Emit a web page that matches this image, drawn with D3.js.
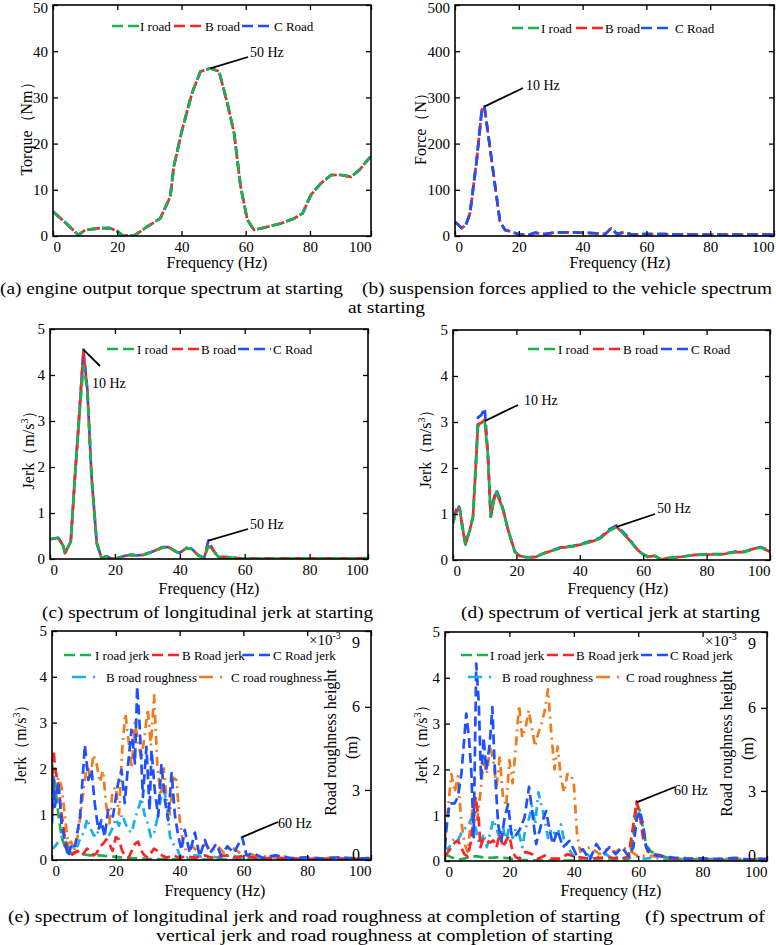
<!DOCTYPE html>
<html><head><meta charset="utf-8">
<script src="https://cdn.jsdelivr.net/npm/d3@7"></script>
<style>
body{margin:0;background:#fff;}
svg text{font-family:"Liberation Serif","Times New Roman",serif;fill:#000;}
</style></head><body>
<svg id="chart" width="776" height="945"></svg>
<script>
// ---------------- DATA ----------------
const xTicks = [0, 20, 40, 60, 80, 100];

// (a) engine output torque (Nm)
const freqA = [0, 4, 7.9, 10, 14.7, 17.8, 19.9, 21.5, 25.1, 29.3, 33.4, 36.5, 37.6, 40.2, 43.3, 45.9, 49, 51.7, 54.3, 56.4, 58.4, 60.5, 62.6, 66.8, 70.9, 75.1, 77.7, 80.3, 83.4, 86.6, 89.7, 92.8, 95.4, 98, 99];
const torqueI = [5.3, 2.8, 0.2, 1.3, 1.7, 1.7, 1.1, 0.2, 0, 2, 3.8, 8.5, 15, 23, 31, 35.6, 36.3, 35.6, 28.7, 22.2, 10.7, 3.5, 1.3, 2, 2.7, 3.8, 4.9, 8.9, 11.4, 13.2, 13.2, 12.8, 14.3, 16.5, 17.2];
const torqueB = [5.3, 2.8, 0.2, 1.3, 1.7, 1.7, 1.1, 0.2, 0, 2, 3.8, 8.5, 15, 23, 31, 35.6, 36.3, 35.6, 28.7, 22.2, 10.7, 3.5, 1.3, 2, 2.7, 3.8, 4.9, 8.9, 11.4, 13.2, 13.2, 12.8, 14.3, 16.5, 17.2];
const torqueC = [5.3, 2.8, 0.2, 1.3, 1.7, 1.7, 1.1, 0.2, 0, 2, 3.8, 8.5, 15, 23, 31, 35.6, 36.3, 35.6, 28.7, 22.2, 10.7, 3.5, 1.3, 2, 2.7, 3.8, 4.9, 8.9, 11.4, 13.2, 13.2, 12.8, 14.3, 16.5, 17.2];

// (b) suspension force (N)
const freqB = [0, 2.1, 3.4, 4.7, 6.8, 8.4, 9.2, 10.5, 12.6, 14.1, 15.7, 17.8, 19.9, 23, 25.1, 28.3, 31.4, 35.6, 39.8, 44, 47.1, 49, 50.8, 52.9, 55.5, 58.6, 65, 75, 85, 95, 100];
const forceI = [31, 17, 24, 49, 164, 273, 280, 215, 107, 31, 13, 9, 4, 2, 7, 4, 8, 8, 7, 6, 4, 17, 4, 8, 3, 4, 4, 3, 3, 3, 3];
const forceB = [31, 17, 24, 49, 164, 273, 282, 215, 107, 31, 13, 9, 4, 2, 7, 4, 8, 8, 7, 6, 4, 17, 4, 8, 3, 4, 4, 3, 3, 3, 3];
const forceC = [31, 17, 24, 49, 164, 273, 280, 215, 107, 31, 13, 9, 4, 2, 7, 4, 8, 8, 7, 6, 4, 17, 4, 8, 3, 4, 4, 3, 3, 3, 3];

// (c) longitudinal jerk at starting (m/s^3)
const freqC = [0, 2.6, 4.1, 4.6, 6.4, 7.7, 8.7, 10.3, 11.5, 12.8, 14.4, 15.9, 17.5, 18.5, 20, 22.6, 24.7, 26.7, 28.8, 31.9, 34.9, 36.5, 39.1, 40.1, 42.1, 43.7, 45.7, 47.5, 48.8, 50.4, 51.9, 54.5, 57.6, 60.6, 70, 80, 90, 100];
const jerkLI = [0.43, 0.46, 0.28, 0.13, 0.38, 1.8, 2.8, 4.2, 3.7, 1.8, 0.35, 0.02, 0.06, 0.02, 0, 0.06, 0.09, 0.08, 0.09, 0.17, 0.25, 0.26, 0.15, 0.14, 0.24, 0.22, 0.08, 0.02, 0.28, 0.18, 0.04, 0.04, 0.02, 0.01, 0.01, 0.015, 0.01, 0.02];
const jerkLB = [0.43, 0.46, 0.28, 0.13, 0.38, 1.8, 2.8, 4.5, 3.7, 1.8, 0.35, 0.02, 0.06, 0.02, 0, 0.06, 0.09, 0.08, 0.09, 0.17, 0.26, 0.26, 0.15, 0.14, 0.24, 0.22, 0.08, 0.02, 0.33, 0.18, 0.04, 0.04, 0.02, 0.01, 0.01, 0.015, 0.01, 0.02];
const jerkLC = [0.43, 0.46, 0.28, 0.13, 0.38, 1.8, 2.8, 4.55, 3.7, 1.8, 0.35, 0.02, 0.06, 0.02, 0, 0.06, 0.09, 0.08, 0.09, 0.17, 0.26, 0.26, 0.15, 0.14, 0.24, 0.22, 0.08, 0.02, 0.4, 0.18, 0.04, 0.04, 0.02, 0.01, 0.01, 0.015, 0.01, 0.02];

// (d) vertical jerk at starting (m/s^3)
const freqD = [0, 0.8, 1.6, 2.1, 2.8, 3.9, 5.3, 6.3, 7.0, 7.9, 8.9, 10.0, 11.0, 11.9, 12.9, 13.7, 14.7, 15.8, 17.4, 19.5, 21.0, 23.1, 25.8, 28.9, 32.1, 34.2, 37.3, 40.5, 43.6, 46.3, 48.9, 51.6, 53.1, 55.2, 57.3, 59.4, 61.5, 63.6, 65.7, 67.8, 72.0, 76.2, 80.4, 84.6, 88.8, 91.9, 95.1, 97.2, 100];
const jerkVI = [0.8, 1.0, 1.09, 1.12, 0.8, 0.33, 0.65, 0.94, 1.8, 2.9, 2.98, 3.02, 2.3, 0.94, 1.3, 1.48, 1.3, 1.09, 0.65, 0.18, 0.09, 0.06, 0.06, 0.15, 0.22, 0.27, 0.29, 0.34, 0.4, 0.46, 0.62, 0.72, 0.62, 0.47, 0.29, 0.15, 0.07, 0.09, 0.01, 0.04, 0.07, 0.11, 0.12, 0.12, 0.17, 0.17, 0.25, 0.27, 0.18];
const jerkVB = [0.8, 1.0, 1.12, 1.12, 0.8, 0.33, 0.65, 0.94, 1.8, 2.95, 2.98, 3.05, 2.3, 0.94, 1.3, 1.48, 1.3, 1.09, 0.65, 0.18, 0.09, 0.06, 0.06, 0.15, 0.22, 0.27, 0.29, 0.34, 0.4, 0.46, 0.62, 0.72, 0.62, 0.47, 0.29, 0.15, 0.07, 0.09, 0.01, 0.04, 0.07, 0.11, 0.12, 0.12, 0.17, 0.17, 0.25, 0.27, 0.18];
const jerkVC = [0.8, 1.05, 1.2, 1.12, 0.8, 0.35, 0.65, 0.94, 1.8, 3.1, 3.15, 3.3, 2.3, 0.94, 1.35, 1.52, 1.35, 1.1, 0.65, 0.18, 0.09, 0.06, 0.07, 0.15, 0.23, 0.28, 0.3, 0.35, 0.42, 0.48, 0.65, 0.75, 0.64, 0.5, 0.3, 0.15, 0.07, 0.09, 0.01, 0.04, 0.07, 0.11, 0.13, 0.13, 0.18, 0.18, 0.26, 0.28, 0.19];

// (e) longitudinal jerk at completion (m/s^3) and roughness (x10^-3 m)
const eIf = [0, 1, 2, 3, 4, 5, 6, 8, 10, 12, 15, 18, 20, 22, 25, 28, 30, 35, 40, 50, 60, 70, 80, 90, 100];
const eIv = [2.1, 1.6, 1.0, 0.5, 0.3, 0.2, 0.15, 0.18, 0.12, 0.1, 0.1, 0.08, 0.07, 0.05, 0.04, 0.03, 0.02, 0.02, 0.01, 0.01, 0.01, 0.01, 0.01, 0.01, 0.01];
const eBf = [0, 0.5, 1, 2, 3, 4, 5, 6, 7, 8, 9, 10, 11, 12, 13, 14, 15, 16, 17, 18, 19, 20, 21, 22, 23, 24, 25, 26, 27, 28, 29, 30, 31, 32, 33, 34, 35, 36, 38, 40, 42, 45, 48, 50, 55, 58, 60, 65, 70, 80, 90, 100];
const eBv = [1.8, 2.4, 2.0, 1.6, 1.0, 0.5, 0.2, 0.1, 0.15, 0.2, 0.1, 0.15, 0.25, 0.2, 0.1, 0.15, 0.3, 0.35, 0.45, 0.35, 0.2, 0.5, 0.45, 0.2, 0.08, 0.05, 0.2, 0.35, 0.4, 0.2, 0.1, 0.05, 0.15, 0.25, 0.2, 0.12, 0.08, 0.05, 0.1, 0.05, 0.08, 0.05, 0.1, 0.05, 0.1, 0.05, 0.1, 0.03, 0.05, 0.02, 0.03, 0.02];
const eCf = [0, 0.4, 0.9, 2, 3, 4.1, 5.1, 6.2, 7.2, 8.8, 10.3, 11.4, 12.4, 13.4, 14.5, 15.5, 16.5, 17.6, 19.1, 20.7, 21.8, 22.8, 23.9, 24.9, 26, 26.7, 27.5, 28.5, 29.6, 30.6, 31.2, 32.2, 33.3, 34.3, 35.4, 36.4, 37.5, 38.5, 39.6, 40.6, 41.6, 43.2, 44.8, 46.3, 47.9, 49.5, 51.5, 53, 55, 57, 59.6, 61, 63, 66, 70, 75, 80, 85, 90, 95, 100];
const eCv = [0.8, 1.82, 1.16, 1.71, 0.8, 0.37, 0.07, 0.37, 0.3, 0.95, 2.51, 1.75, 1.97, 1.24, 0.66, 0.87, 0.51, 1.09, 0.95, 1.67, 1.97, 1.24, 2.11, 2.84, 2.11, 3.79, 2.91, 1.38, 2.47, 1.09, 2.4, 1.53, 0.95, 2.1, 1.3, 0.87, 1.9, 1.0, 0.51, 0.22, 0.66, 0.15, 0.6, 0.07, 0.44, 0.15, 0.35, 0.1, 0.3, 0.15, 0.5, 0.1, 0.15, 0.05, 0.1, 0.04, 0.06, 0.03, 0.06, 0.03, 0.04];
const eRBf = [0, 1, 2, 3, 4, 5, 6, 7, 8, 9, 10, 11, 12, 13, 14, 15, 16, 17, 18, 19, 20, 21, 22, 23, 24, 25, 26, 27, 28, 29, 30, 31, 32, 33, 34, 35, 36, 37, 38, 39, 40, 42, 45, 48, 50, 53, 56, 60, 65, 70, 75, 80, 85, 90, 95, 100];
const eRBv = [0.88, 0.97, 1.13, 1.30, 1.21, 0.97, 0.80, 1.05, 0.97, 1.30, 1.46, 1.96, 1.63, 1.38, 1.30, 1.79, 1.46, 1.30, 1.38, 1.63, 1.96, 1.71, 2.12, 1.79, 1.54, 1.46, 1.96, 2.29, 2.70, 2.12, 1.79, 1.30, 1.46, 1.96, 2.62, 3.11, 2.45, 1.30, 1.05, 0.97, 0.64, 0.55, 0.64, 0.55, 0.60, 0.54, 0.64, 0.55, 0.50, 0.55, 0.50, 0.52, 0.50, 0.54, 0.50, 0.55];
const eRCf = [0, 1, 2, 3, 4, 5, 6, 7, 8, 9, 10, 11, 12, 13, 14, 15, 16, 17, 18, 19, 20, 21, 22, 23, 24, 25, 26, 27, 28, 29, 30, 31, 32, 33, 34, 35, 36, 37, 38, 39, 40, 41, 42, 44, 46, 48, 50, 52, 54, 56, 58, 60, 62, 65, 68, 70, 73, 76, 80, 82, 85, 88, 91, 94, 97, 100];
const eRCv = [2.12, 2.95, 3.45, 3.11, 2.12, 1.05, 1.13, 0.80, 1.30, 2.12, 3.11, 3.94, 3.45, 4.27, 3.94, 3.28, 3.69, 2.45, 1.79, 2.95, 3.11, 2.12, 4.44, 5.76, 4.77, 3.78, 5.43, 4.77, 4.11, 4.93, 5.92, 4.60, 6.42, 3.94, 2.78, 3.78, 2.62, 2.12, 3.45, 3.36, 1.96, 1.13, 0.80, 0.97, 0.72, 1.05, 0.80, 0.97, 0.72, 0.97, 0.80, 0.64, 0.72, 0.55, 0.64, 0.55, 0.60, 0.50, 0.22, 0.55, 0.52, 0.57, 0.50, 0.55, 0.49, 0.52];

// (f) vertical jerk at completion (m/s^3) and roughness (x10^-3 m)
const fIf = [0, 2, 4, 6, 8, 10, 12, 14, 16, 18, 20, 22, 25, 30, 40, 50, 55, 57, 58.5, 59.5, 60.5, 61.5, 62.5, 64, 66, 68, 70, 80, 90, 100];
const fIv = [0.15, 0.08, 0.03, 0.05, 0.1, 0.1, 0.08, 0.07, 0.08, 0.07, 0.06, 0.03, 0.02, 0.01, 0.01, 0.01, 0.02, 0.05, 0.5, 1.25, 1.1, 0.7, 0.35, 0.2, 0.15, 0.1, 0.05, 0.03, 0.02, 0.02];
const fBf = [0, 1, 2, 3, 4, 5, 6, 7, 8, 9, 9.5, 10.5, 11, 12, 13, 14, 15, 16, 17, 18, 19, 20, 21, 22, 23, 25, 27, 29, 31, 33, 36, 38, 40, 45, 50, 55, 57, 58.5, 59.5, 60.5, 61.5, 63, 65, 67, 70, 80, 90, 100];
const fBv = [0.1, 0.2, 0.3, 0.4, 0.45, 0.3, 0.15, 0.1, 0.4, 1.0, 1.4, 0.9, 0.3, 0.5, 0.45, 0.4, 0.45, 0.3, 0.6, 0.3, 0.45, 0.55, 0.2, 0.08, 0.05, 0.2, 0.15, 0.05, 0.12, 0.05, 0.05, 0.15, 0.1, 0.05, 0.08, 0.05, 0.1, 0.8, 1.3, 1.0, 0.5, 0.2, 0.15, 0.12, 0.05, 0.03, 0.04, 0.03];
const fCf = [0, 0.4, 1.4, 3, 4, 5.1, 6.6, 7.5, 8.2, 8.9, 9.7, 10.5, 11.2, 12, 12.8, 13.9, 14.7, 15.4, 16.5, 17.5, 18.5, 19.6, 20.6, 21.6, 23.1, 24.7, 26.1, 27.3, 28.3, 29.9, 31.4, 32.5, 33.5, 35, 36.6, 38.7, 40.7, 42.8, 44.9, 47, 49.1, 51.1, 53, 55, 57, 58.5, 59.5, 60.5, 61.5, 62.5, 64, 67, 70, 75, 80, 85, 90, 95, 100];
const fCv = [0.3, 0.67, 1.26, 1.26, 1.4, 1.91, 3.22, 2.64, 1.91, 0.52, 4.31, 3.44, 1.77, 2.7, 1.99, 2.56, 3.36, 2.11, 0.8, 0.44, 0.95, 1.24, 0.6, 0.52, 0.67, 0.95, 1.62, 0.95, 0.37, 0.8, 1.09, 0.67, 0.37, 0.67, 0.3, 0.44, 0.15, 0.26, 0.02, 0.37, 0.15, 0.3, 0.15, 0.3, 0.1, 0.3, 0.9, 1.1, 0.8, 0.3, 0.15, 0.1, 0.08, 0.05, 0.06, 0.04, 0.07, 0.03, 0.05];
const fRBf = [0, 1, 2, 3, 4, 5, 6, 7, 8, 9, 10, 11, 12, 13, 14, 15, 16, 17, 18, 19, 20, 21, 22, 23, 24, 25, 26, 27, 28, 29, 30, 31, 32, 33, 34, 35, 36, 37, 38, 39, 40, 42, 44, 46, 48, 50, 52, 54, 56, 58, 60, 62, 65, 68, 71, 74, 77, 80, 83, 86, 89, 92, 95, 98, 100];
const fRBv = [0.97, 0.88, 1.13, 1.30, 1.21, 1.46, 1.63, 1.71, 1.96, 2.12, 1.30, 1.05, 1.46, 0.97, 1.46, 1.96, 1.63, 1.30, 1.71, 1.13, 1.79, 1.30, 1.63, 1.46, 0.97, 1.63, 1.96, 2.45, 1.79, 2.95, 2.45, 1.96, 1.30, 1.63, 1.46, 1.46, 1.79, 1.21, 0.97, 0.80, 0.64, 0.55, 0.72, 0.55, 0.64, 0.72, 0.55, 0.64, 0.55, 0.60, 0.64, 0.55, 0.60, 0.52, 0.57, 0.52, 0.55, 0.50, 0.55, 0.52, 0.55, 0.50, 0.54, 0.50, 0.52];
const fRCf = [0, 1, 2, 3, 4, 5, 6, 7, 8, 9, 10, 11, 12, 13, 14, 15, 16, 17, 18, 19, 20, 21, 22, 23, 24, 25, 26, 27, 28, 29, 30, 31, 32, 33, 34, 35, 36, 37, 38, 39, 40, 41, 42, 45, 48, 50, 53, 55, 58, 60, 63, 65, 68, 71, 74, 77, 80, 83, 86, 89, 92, 95, 98, 100];
const fRCv = [1.30, 2.45, 3.61, 2.95, 3.53, 1.96, 1.13, 0.80, 1.79, 2.78, 1.96, 2.95, 4.11, 3.61, 4.60, 4.11, 3.11, 4.27, 2.78, 2.45, 4.11, 3.28, 4.60, 6.09, 4.93, 5.26, 5.92, 5.26, 4.60, 5.10, 5.43, 5.92, 6.67, 5.10, 3.78, 4.60, 3.45, 2.95, 3.61, 3.61, 3.28, 1.46, 0.80, 0.97, 0.72, 0.88, 0.80, 0.97, 0.80, 0.64, 0.67, 0.64, 0.59, 0.55, 0.60, 0.52, 0.57, 0.50, 0.59, 0.52, 0.55, 0.50, 0.57, 0.52];

// ---------------- STYLE ----------------
const COL = {I: "#1db04c", B: "#ff2424", C: "#1f50ff", RB: "#1badec", RC: "#f07a1c"};
const DASH = "10,5";
const DASHDOT = "9,5,2,5";
const FONT = '"Liberation Serif","Times New Roman",serif';

const svg = d3.select("#chart");
const defs = svg.append("defs");

function S(f, v, key, off, right) {
  const rough = key === "RB" || key === "RC";
  return {f, v, color: COL[key], dash: rough ? DASHDOT : DASH, off: off || 0, right: !!right};
}

const panels = [
  {id: "a", L: 53, R: 371, T: 5, B: 236, xMax: 99, yDomain: [0, 50], yTicks: [0, 10, 20, 30, 40, 50],
   ytitle: ["Torque（Nm）"], ytx: 26, yty: 125,
   series: [S(freqA, torqueC, "C", 0), S(freqA, torqueB, "B", -3), S(freqA, torqueI, "I", 0)],
   legend: [{x1: 112, x2: 140, tx: 140, y: 26, key: "I", label: "I road"},
            {x1: 174, x2: 204, tx: 205, y: 26, key: "B", label: "B road"},
            {x1: 242, x2: 273, tx: 274, y: 26, key: "C", label: "C Road"}],
   notes: [{hz: 49, val: 36.3, ex: 248, ey: 57, tx: 250, ty: 57, label: "50 Hz"}]},
  {id: "b", L: 455, R: 774, T: 5, B: 236, xMax: 100, yDomain: [0, 500], yTicks: [0, 100, 200, 300, 400, 500],
   ytitle: ["Force（N）"], ytx: 420, yty: 125,
   series: [S(freqB, forceI, "I", 0), S(freqB, forceB, "B", -3), S(freqB, forceC, "C", 0)],
   legend: [{x1: 512, x2: 541, tx: 541, y: 28, key: "I", label: "I road"},
            {x1: 576, x2: 605, tx: 605, y: 28, key: "B", label: "B road"},
            {x1: 641, x2: 673, tx: 675, y: 28, key: "C", label: "C Road"}],
   notes: [{hz: 9.2, val: 280, ex: 523, ey: 88, tx: 526, ty: 90, label: "10 Hz"}]},
  {id: "c", L: 50, R: 368, T: 329, B: 559, xMax: 98, yDomain: [0, 5], yTicks: [0, 1, 2, 3, 4, 5],
   ytitle: "jerk", ytx: 28, yty: 446,
   series: [S(freqC, jerkLC, "C", 10), S(freqC, jerkLB, "B", 5), S(freqC, jerkLI, "I", 0)],
   legend: [{x1: 107, x2: 137, tx: 137, y: 349, key: "I", label: "I road"},
            {x1: 172, x2: 201, tx: 201, y: 349, key: "B", label: "B road"},
            {x1: 238, x2: 271, tx: 273, y: 349, key: "C", label: "C Road"}],
   notes: [{hz: 10.3, val: 4.55, ex: 100, ey: 366, tx: 92, ty: 388, label: "10 Hz"},
           {hz: 48.8, val: 0.4, ex: 248, ey: 529, tx: 250, ty: 529, label: "50 Hz"}]},
  {id: "d", L: 453, R: 770, T: 330, B: 560, xMax: 100, yDomain: [0, 5], yTicks: [0, 1, 2, 3, 4, 5],
   ytitle: "jerk", ytx: 425, yty: 445,
   series: [S(freqD, jerkVC, "C", 10), S(freqD, jerkVB, "B", 5), S(freqD, jerkVI, "I", 0)],
   legend: [{x1: 528, x2: 558, tx: 558, y: 349, key: "I", label: "I road"},
            {x1: 593, x2: 623, tx: 623, y: 349, key: "B", label: "B road"},
            {x1: 661, x2: 689, tx: 691, y: 349, key: "C", label: "C Road"}],
   notes: [{hz: 10.0, val: 3.02, ex: 518, ey: 405, tx: 524, ty: 405, label: "10 Hz"},
           {hz: 51.6, val: 0.72, ex: 655, ey: 514, tx: 657, ty: 513, label: "50 Hz"}]},
  {id: "e", L: 52, R: 371, T: 631, B: 860, xMax: 100, yDomain: [0, 5], yTicks: [0, 1, 2, 3, 4, 5],
   rDomain: [0.47, 8.74], rTicks: [0, 3, 6, 9],
   ytitle: "jerk", ytx: 20, yty: 740,
   series: [S(eRBf, eRBv, "RB", 0, true), S(eRCf, eRCv, "RC", 0, true),
            S(eIf, eIv, "I", 0), S(eBf, eBv, "B", 0), S(eCf, eCv, "C", 0)],
   legend: [{x1: 64, x2: 95, tx: 95, y: 655, key: "I", label: "I road jerk"},
            {x1: 152, x2: 182, tx: 182, y: 655, key: "B", label: "B Road jerk"},
            {x1: 243, x2: 273, tx: 273, y: 655, key: "C", label: "C Road jerk"},
            {x1: 72, x2: 101, tx: 106, y: 677, key: "RB", label: "B road roughness"},
            {x1: 199, x2: 228, tx: 231, y: 677, key: "RC", label: "C road roughness"}],
   notes: [{hz: 59.6, val: 0.5, ex: 278, ey: 822, tx: 278, ty: 828, label: "60 Hz"}]},
  {id: "f", L: 445, R: 767, T: 632, B: 861, xMax: 100, yDomain: [0, 5], yTicks: [0, 1, 2, 3, 4, 5],
   rDomain: [0.47, 8.74], rTicks: [0, 3, 6, 9],
   ytitle: "jerk", ytx: 421, yty: 740,
   series: [S(fRBf, fRBv, "RB", 0, true), S(fRCf, fRCv, "RC", 0, true),
            S(fIf, fIv, "I", 0), S(fBf, fBv, "B", 0), S(fCf, fCv, "C", 0)],
   legend: [{x1: 461, x2: 490, tx: 490, y: 655, key: "I", label: "I road jerk"},
            {x1: 547, x2: 576, tx: 576, y: 655, key: "B", label: "B Road jerk"},
            {x1: 641, x2: 670, tx: 670, y: 655, key: "C", label: "C Road jerk"},
            {x1: 468, x2: 497, tx: 502, y: 677, key: "RB", label: "B road roughness"},
            {x1: 596, x2: 623, tx: 626, y: 677, key: "RC", label: "C road roughness"}],
   notes: [{hz: 59.5, val: 1.28, ex: 675, ey: 787, tx: 674, ty: 795, label: "60 Hz"}]}
];

const freqLabels = [{x: 217, y: 268}, {x: 620, y: 268}, {x: 209, y: 594}, {x: 618, y: 594}, {x: 215, y: 896}, {x: 611, y: 896}];
const captions = [
  {t: "(a) engine output torque spectrum at starting", x: 0, y: 294, w: 343},
  {t: "(b) suspension forces applied to the vehicle spectrum", x: 362, y: 294, w: 410},
  {t: "at starting", x: 348, y: 313, w: 77},
  {t: "(c) spectrum of longitudinal jerk at starting", x: 42, y: 618, w: 331},
  {t: "(d) spectrum of vertical jerk at starting", x: 461, y: 618, w: 299},
  {t: "(e) spectrum of longitudinal jerk and road roughness at completion of starting", x: 8, y: 922, w: 612},
  {t: "(f) spectrum of", x: 645, y: 922, w: 120},
  {t: "vertical jerk and road roughness at completion of starting", x: 156, y: 941, w: 457}
];

function styleAxis(sel, size) {
  sel.attr("font-family", FONT).attr("font-size", size || 15);
  sel.select(".domain").remove();
  sel.selectAll(".tick line").attr("stroke", "#000").attr("stroke-width", 1.3);
  sel.selectAll(".tick text").attr("fill", "#000");
}

function drawPanel(p) {
  const x = d3.scaleLinear().domain([0, p.xMax]).range([p.L, p.R]);
  const xA = x.copy().clamp(true);
  const y = d3.scaleLinear().domain(p.yDomain).range([p.B, p.T]);
  const yR = p.rDomain ? d3.scaleLinear().domain(p.rDomain).range([p.B, p.T]) : null;
  const g = svg.append("g");

  defs.append("clipPath").attr("id", "clip-" + p.id).append("rect")
    .attr("x", p.L).attr("y", p.T).attr("width", p.R - p.L).attr("height", p.B - p.T);
  const plot = g.append("g").attr("clip-path", `url(#clip-${p.id})`);
  p.series.forEach(s => {
    const ys = s.right ? yR : y;
    const line = d3.line().x(d => x(d[0])).y(d => ys(d[1]));
    plot.append("path").datum(d3.zip(s.f, s.v)).attr("d", line)
      .attr("fill", "none").attr("stroke", s.color).attr("stroke-width", 2.7)
      .attr("stroke-dasharray", s.dash).attr("stroke-dashoffset", s.off)
      .attr("stroke-linejoin", "round");
  });

  // axes
  const fmt = d3.format("d");
  const axB = g.append("g").attr("transform", `translate(0,${p.B})`)
    .call(d3.axisBottom(xA).tickValues(xTicks).tickFormat(fmt).tickSizeInner(-5).tickSizeOuter(0).tickPadding(5));
  styleAxis(axB);
  axB.selectAll(".tick text").filter(d => d === 100).attr("text-anchor", "end");
  axB.selectAll(".tick text").filter(d => d === 0).attr("text-anchor", "start");
  const axT = g.append("g").attr("transform", `translate(0,${p.T})`)
    .call(d3.axisTop(xA).tickValues(xTicks).tickSizeInner(-5).tickSizeOuter(0).tickFormat(""));
  styleAxis(axT);
  const axL = g.append("g").attr("transform", `translate(${p.L},0)`)
    .call(d3.axisLeft(y).tickValues(p.yTicks).tickFormat(fmt).tickSizeInner(-5).tickSizeOuter(0).tickPadding(5));
  styleAxis(axL);
  if (p.T < 10) axL.selectAll(".tick text").filter(d => d === p.yDomain[1]).attr("dy", "0.5em");
  if (yR) {
    const yRA = yR.copy().clamp(true);
    const axR = g.append("g").attr("transform", `translate(${p.R},0)`)
      .call(d3.axisLeft(yRA).tickValues(p.rTicks).tickFormat(fmt).tickSizeInner(6).tickSizeOuter(0).tickPadding(5));
    styleAxis(axR, 16);
    axR.selectAll(".tick text").filter(d => d === 9).attr("dy", "1.0em");
    axR.selectAll(".tick text").filter(d => d === 0).attr("dy", "-0.05em");
    const ex = g.append("text").attr("x", p.R - 62).attr("y", p.T + 14).attr("font-size", 15);
    ex.append("tspan").text("×10");
    ex.append("tspan").attr("font-size", 10).attr("dy", -6).text("-3");
    const rt = p.R - 41, mid = (p.T + p.B) / 2 - 3;
    g.append("text").attr("transform", `translate(${rt},${mid}) rotate(-90)`)
      .attr("text-anchor", "middle").attr("dy", "0.35em").attr("font-size", 16).text("Road roughness height");
    g.append("text").attr("transform", `translate(${p.R - 20},${mid + 5}) rotate(-90)`)
      .attr("text-anchor", "middle").attr("dy", "0.35em").attr("font-size", 16).text("(m)");
  } else {
    const axR = g.append("g").attr("transform", `translate(${p.R},0)`)
      .call(d3.axisRight(y).tickValues(p.yTicks).tickSizeInner(-5).tickSizeOuter(0).tickFormat(""));
    styleAxis(axR);
  }
  g.append("rect").attr("x", p.L).attr("y", p.T).attr("width", p.R - p.L).attr("height", p.B - p.T)
    .attr("fill", "none").attr("stroke", "#000").attr("stroke-width", 1.6);

  // y title
  const yt = g.append("text").attr("transform", `translate(${p.ytx},${p.yty}) rotate(-90)`)
    .attr("text-anchor", "middle").attr("dy", "0.35em").attr("font-size", 16);
  if (p.ytitle === "jerk") {
    yt.append("tspan").text("Jerk（m/s");
    yt.append("tspan").attr("font-size", 10).attr("dy", -6).text("3");
    yt.append("tspan").attr("dy", 6).text("）");
  } else {
    yt.text(p.ytitle[0]);
  }

  // legend
  p.legend.forEach(l => {
    const st = COL[l.key];
    const isR = l.key === "RB" || l.key === "RC";
    g.append("line").attr("x1", l.x1).attr("x2", l.x2).attr("y1", l.y).attr("y2", l.y)
      .attr("stroke", st).attr("stroke-width", 2.5).attr("stroke-dasharray", isR ? "14,7,2,7" : "11,5");
    g.append("text").attr("x", l.tx).attr("y", l.y).attr("dy", "0.35em").attr("font-size", 13).text(l.label);
  });

  // annotations
  p.notes.forEach(n => {
    g.append("line").attr("x1", x(n.hz)).attr("y1", y(n.val)).attr("x2", n.ex).attr("y2", n.ey)
      .attr("stroke", "#000").attr("stroke-width", 1.8);
    g.append("text").attr("x", n.tx).attr("y", n.ty).attr("font-size", 14).text(n.label);
  });
}

panels.forEach(drawPanel);

freqLabels.forEach(f => {
  svg.append("text").attr("x", f.x).attr("y", f.y).attr("text-anchor", "middle")
    .attr("font-size", 16).text("Frequency (Hz)");
});
captions.forEach(c => {
  svg.append("text").attr("x", c.x).attr("y", c.y).attr("font-size", 17.5)
    .attr("textLength", c.w).attr("lengthAdjust", "spacingAndGlyphs").text(c.t);
});
</script>
</body></html>
